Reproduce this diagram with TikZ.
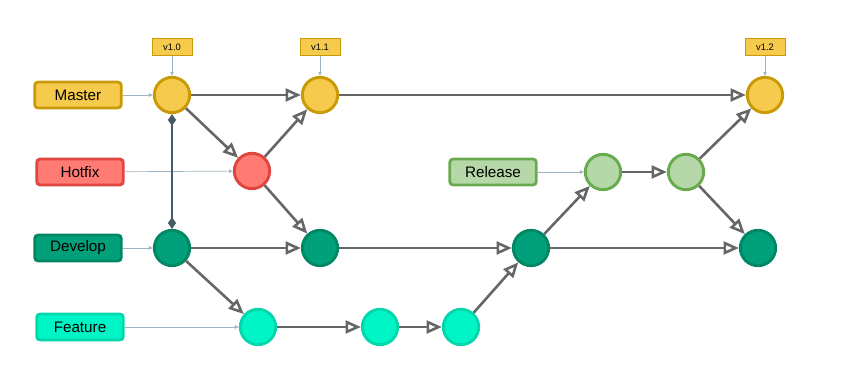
\documentclass[tikz,border=0pt]{standalone}
\usepackage{fontspec}
\setmainfont{Liberation Sans}
\usepackage{xcolor}
\usetikzlibrary{arrows.meta,positioning}
\definecolor{mastF}{HTML}{F6CA4C}
\definecolor{mastD}{HTML}{C99A06}
\definecolor{hotF}{HTML}{FF7B74}
\definecolor{hotD}{HTML}{E0463F}
\definecolor{devF}{HTML}{00A07A}
\definecolor{devD}{HTML}{008766}
\definecolor{featF}{HTML}{00F5C6}
\definecolor{featD}{HTML}{00D8AC}
\definecolor{relF}{HTML}{B6D8A8}
\definecolor{relD}{HTML}{6AAA4E}
\definecolor{edgeG}{HTML}{666666}
\definecolor{ptrC}{HTML}{9FB3C0}
\definecolor{dmdC}{HTML}{475B67}
\begin{document}
\begin{tikzpicture}[
    x=0.03cm, y=-0.03cm,
    cmt/.style={circle, minimum size=1.06cm, inner sep=0pt, line width=2.5pt},
    br/.style={draw, rounded corners=3pt, minimum width=2.6cm,
               minimum height=0.78cm, line width=2.4pt,
               font=\fontsize{13}{15}\selectfont},
    tg/.style={draw=mastD, fill=mastF, minimum width=1.2cm, minimum height=0.5cm,
               inner sep=0pt, line width=0.8pt, font=\fontsize{8}{9}\selectfont},
    ed/.style={draw=edgeG, line width=2.2pt, -{Triangle[open, length=13pt, width=11pt]}},
    pt/.style={draw=ptrC, line width=0.6pt, -{Triangle[length=3.5pt, width=3pt]}}
]
    \useasboundingbox (0,0) rectangle (854,375);

    \node[br, fill=mastF, draw=mastD] (Lm) at (78,95)  {Master};
    \node[br, fill=hotF,  draw=hotD]  (Lh) at (80,172) {Hotfix};
    \node[br, fill=devF,  draw=devD]  (Ld) at (78,248) {Develop};
    \node[br, fill=featF, draw=featD] (Lf) at (80,327) {Feature};
    \node[br, fill=relF,  draw=relD]  (Lr) at (493,172) {Release};

    \node[cmt, fill=mastF, draw=mastD] (M1) at (172,95) {};
    \node[cmt, fill=mastF, draw=mastD] (M2) at (320,95) {};
    \node[cmt, fill=mastF, draw=mastD] (M3) at (765,95) {};
    \node[cmt, fill=hotF,  draw=hotD]  (H1) at (252,171) {};
    \node[cmt, fill=devF,  draw=devD]  (D1) at (172,248) {};
    \node[cmt, fill=devF,  draw=devD]  (D2) at (320,248) {};
    \node[cmt, fill=devF,  draw=devD]  (D3) at (531,248) {};
    \node[cmt, fill=devF,  draw=devD]  (D4) at (758,248) {};
    \node[cmt, fill=featF, draw=featD] (F1) at (258,327) {};
    \node[cmt, fill=featF, draw=featD] (F2) at (380,327) {};
    \node[cmt, fill=featF, draw=featD] (F3) at (461,327) {};
    \node[cmt, fill=relF,  draw=relD]  (R1) at (603,172) {};
    \node[cmt, fill=relF,  draw=relD]  (R2) at (686,172) {};

    \node[tg, above=0.6cm of M1] (T0) {v1.0};
    \node[tg, above=0.6cm of M2] (T1) {v1.1};
    \node[tg, above=0.6cm of M3] (T2) {v1.2};

    \draw[pt] (Lm) -- (M1);
    \draw[pt] (Lh) -- (H1);
    \draw[pt] (Ld) -- (D1);
    \draw[pt] (Lf) -- (F1);
    \draw[pt] (Lr) -- (R1);
    \draw[pt] (T0) -- (M1);
    \draw[pt] (T1) -- (M2);
    \draw[pt] (T2) -- (M3);

    \draw[draw=dmdC, line width=2.4pt,
          {Diamond[length=10pt, width=7pt]}-{Diamond[length=10pt, width=7pt]}] (M1) -- (D1);

    \draw[ed] (M1) -- (M2);
    \draw[ed] (M1) -- (H1);
    \draw[ed] (H1) -- (M2);
    \draw[ed] (H1) -- (D2);
    \draw[ed] (M2) -- (M3);
    \draw[ed] (D1) -- (D2);
    \draw[ed] (D1) -- (F1);
    \draw[ed] (D2) -- (D3);
    \draw[ed] (F1) -- (F2);
    \draw[ed] (F2) -- (F3);
    \draw[ed] (F3) -- (D3);
    \draw[ed] (D3) -- (R1);
    \draw[ed] (D3) -- (D4);
    \draw[ed] (R1) -- (R2);
    \draw[ed] (R2) -- (M3);
    \draw[ed] (R2) -- (D4);
\end{tikzpicture}
\end{document}
